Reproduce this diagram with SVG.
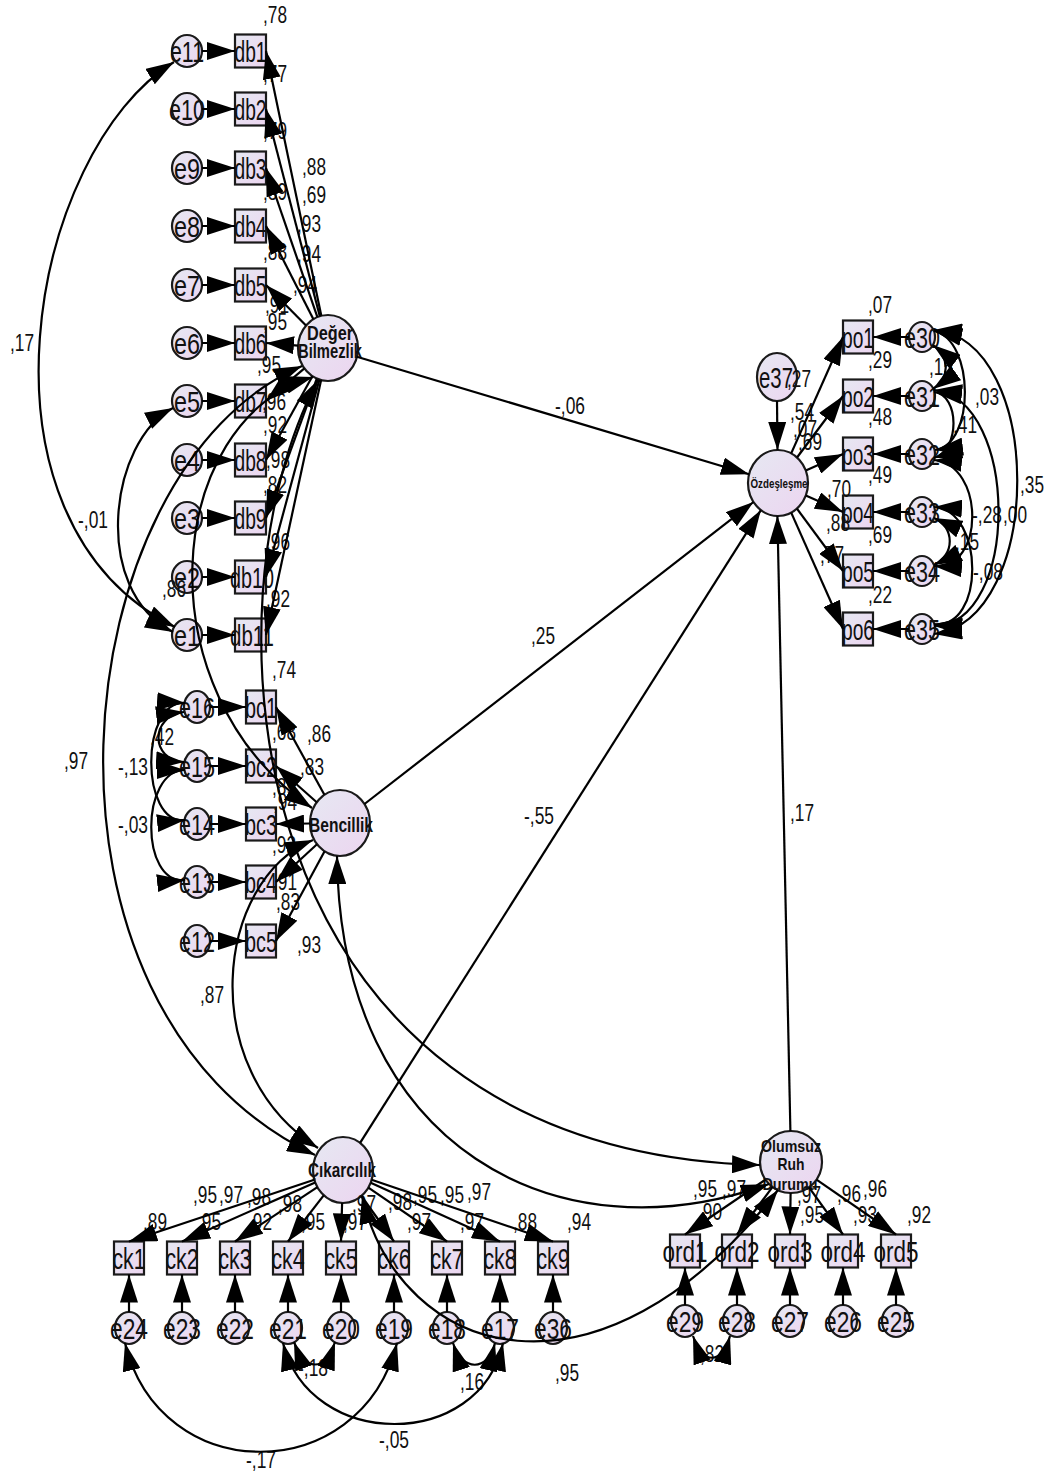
<svg xmlns="http://www.w3.org/2000/svg" width="1052" height="1474" viewBox="0 0 1052 1474">
<defs>
<linearGradient id="g" x1="0" y1="0" x2="1" y2="1"><stop offset="0" stop-color="#e6e8f2"/><stop offset="1" stop-color="#ecd5f0"/></linearGradient>
<marker id="ah" viewBox="0 0 28 18" refX="28" refY="9" markerWidth="28" markerHeight="18" markerUnits="userSpaceOnUse" orient="auto-start-reverse"><path d="M0,0 L28,9 L0,18 z" fill="#000"/></marker>
</defs>
<style>
.n{fill:url(#g);stroke:#1a1a1a;stroke-width:2.2}
.t{font-family:"Liberation Sans",Arial,sans-serif;font-size:30px;text-anchor:middle;fill:#111}
.lt{font-family:"Liberation Sans",Arial,sans-serif;font-weight:bold;font-size:20px;text-anchor:middle;fill:#111}
.v{font-family:"Liberation Sans",Arial,sans-serif;font-size:23px;fill:#111}
.c path{stroke:#000;stroke-width:2.2;fill:none;marker-end:url(#ah)}
.c path.d{marker-start:url(#ah)}
</style>
<rect width="1052" height="1474" fill="#fff"/>
<g id="nodes">
<g id="DB"><ellipse class="n" cx="328" cy="348" rx="30" ry="33"/><text class="lt" x="330" y="340" textLength="46" lengthAdjust="spacingAndGlyphs">Değer</text><text class="lt" x="330" y="358" textLength="64" lengthAdjust="spacingAndGlyphs">Bilmezlik</text></g>
<g id="OZ"><ellipse class="n" cx="778" cy="483" rx="30" ry="33"/><text class="lt" x="779" y="488" style="font-size:13px" textLength="57" lengthAdjust="spacingAndGlyphs">Özdeşleşme</text></g>
<g id="e37"><ellipse class="n" cx="777" cy="377" rx="20" ry="24"/><text class="t" x="776" y="388" textLength="34" lengthAdjust="spacingAndGlyphs">e37</text></g>
<g id="BC"><ellipse class="n" cx="340" cy="823" rx="30" ry="33"/><text class="lt" x="341" y="832" textLength="64" lengthAdjust="spacingAndGlyphs">Bencillik</text></g>
<g id="CK"><ellipse class="n" cx="343" cy="1170" rx="30" ry="33"/><text class="lt" x="342" y="1177" textLength="68" lengthAdjust="spacingAndGlyphs">Çıkarcılık</text></g>
<g id="OR"><ellipse class="n" cx="791" cy="1162" rx="31" ry="31"/><text class="lt" x="791" y="1152" style="font-size:17px" textLength="60" lengthAdjust="spacingAndGlyphs">Olumsuz</text><text class="lt" x="791" y="1170" style="font-size:17px" textLength="27" lengthAdjust="spacingAndGlyphs">Ruh</text><text class="lt" x="790" y="1190" style="font-size:17px" textLength="55" lengthAdjust="spacingAndGlyphs">Durumu</text></g>

<g id="db1"><rect class="n" x="235" y="34.5" width="31" height="33"/><text class="t" x="250.5" y="62" textLength="32" lengthAdjust="spacingAndGlyphs">db1</text></g>
<g id="db2"><rect class="n" x="235" y="92.5" width="31" height="33"/><text class="t" x="250.5" y="120" textLength="32" lengthAdjust="spacingAndGlyphs">db2</text></g>
<g id="db3"><rect class="n" x="235" y="151.5" width="31" height="33"/><text class="t" x="250.5" y="179" textLength="32" lengthAdjust="spacingAndGlyphs">db3</text></g>
<g id="db4"><rect class="n" x="235" y="209.5" width="31" height="33"/><text class="t" x="250.5" y="237" textLength="32" lengthAdjust="spacingAndGlyphs">db4</text></g>
<g id="db5"><rect class="n" x="235" y="268.5" width="31" height="33"/><text class="t" x="250.5" y="296" textLength="32" lengthAdjust="spacingAndGlyphs">db5</text></g>
<g id="db6"><rect class="n" x="235" y="326.5" width="31" height="33"/><text class="t" x="250.5" y="354" textLength="32" lengthAdjust="spacingAndGlyphs">db6</text></g>
<g id="db7"><rect class="n" x="235" y="384.5" width="31" height="33"/><text class="t" x="250.5" y="412" textLength="32" lengthAdjust="spacingAndGlyphs">db7</text></g>
<g id="db8"><rect class="n" x="235" y="443.5" width="31" height="33"/><text class="t" x="250.5" y="471" textLength="32" lengthAdjust="spacingAndGlyphs">db8</text></g>
<g id="db9"><rect class="n" x="235" y="501.5" width="31" height="33"/><text class="t" x="250.5" y="529" textLength="32" lengthAdjust="spacingAndGlyphs">db9</text></g>
<g id="db10"><rect class="n" x="235" y="560.5" width="31" height="33"/><text class="t" x="252" y="588" textLength="44" lengthAdjust="spacingAndGlyphs">db10</text></g>
<g id="db11"><rect class="n" x="235" y="618.5" width="31" height="33"/><text class="t" x="252" y="646" textLength="44" lengthAdjust="spacingAndGlyphs">db11</text></g>

<g id="e11"><ellipse class="n" cx="187" cy="51" rx="15" ry="16"/><text class="t" x="187" y="62" textLength="34" lengthAdjust="spacingAndGlyphs">e11</text></g>
<g id="e10"><ellipse class="n" cx="187" cy="109" rx="15" ry="16"/><text class="t" x="187" y="120" textLength="36" lengthAdjust="spacingAndGlyphs">e10</text></g>
<g id="e9"><ellipse class="n" cx="187" cy="168" rx="15" ry="16"/><text class="t" x="187" y="179" textLength="26" lengthAdjust="spacingAndGlyphs">e9</text></g>
<g id="e8"><ellipse class="n" cx="187" cy="226" rx="15" ry="16"/><text class="t" x="187" y="237" textLength="26" lengthAdjust="spacingAndGlyphs">e8</text></g>
<g id="e7"><ellipse class="n" cx="187" cy="285" rx="15" ry="16"/><text class="t" x="187" y="296" textLength="26" lengthAdjust="spacingAndGlyphs">e7</text></g>
<g id="e6"><ellipse class="n" cx="187" cy="343" rx="15" ry="16"/><text class="t" x="187" y="354" textLength="26" lengthAdjust="spacingAndGlyphs">e6</text></g>
<g id="e5"><ellipse class="n" cx="187" cy="401" rx="15" ry="16"/><text class="t" x="187" y="412" textLength="26" lengthAdjust="spacingAndGlyphs">e5</text></g>
<g id="e4"><ellipse class="n" cx="187" cy="460" rx="15" ry="16"/><text class="t" x="187" y="471" textLength="26" lengthAdjust="spacingAndGlyphs">e4</text></g>
<g id="e3"><ellipse class="n" cx="187" cy="518" rx="15" ry="16"/><text class="t" x="187" y="529" textLength="26" lengthAdjust="spacingAndGlyphs">e3</text></g>
<g id="e2"><ellipse class="n" cx="187" cy="577" rx="15" ry="16"/><text class="t" x="187" y="588" textLength="26" lengthAdjust="spacingAndGlyphs">e2</text></g>
<g id="e1"><ellipse class="n" cx="187" cy="635" rx="15" ry="16"/><text class="t" x="187" y="646" textLength="26" lengthAdjust="spacingAndGlyphs">e1</text></g>

<g id="bc1"><rect class="n" x="246" y="690.5" width="30" height="33"/><text class="t" x="261" y="718" textLength="32" lengthAdjust="spacingAndGlyphs">bc1</text></g>
<g id="bc2"><rect class="n" x="246" y="749.5" width="30" height="33"/><text class="t" x="261" y="777" textLength="32" lengthAdjust="spacingAndGlyphs">bc2</text></g>
<g id="bc3"><rect class="n" x="246" y="807.5" width="30" height="33"/><text class="t" x="261" y="835" textLength="32" lengthAdjust="spacingAndGlyphs">bc3</text></g>
<g id="bc4"><rect class="n" x="246" y="865.5" width="30" height="33"/><text class="t" x="261" y="893" textLength="32" lengthAdjust="spacingAndGlyphs">bc4</text></g>
<g id="bc5"><rect class="n" x="246" y="924.5" width="30" height="33"/><text class="t" x="261" y="952" textLength="32" lengthAdjust="spacingAndGlyphs">bc5</text></g>
<g id="e16"><ellipse class="n" cx="197" cy="707" rx="13" ry="16"/><text class="t" x="197" y="718" textLength="36" lengthAdjust="spacingAndGlyphs">e16</text></g>
<g id="e15"><ellipse class="n" cx="197" cy="766" rx="13" ry="16"/><text class="t" x="197" y="777" textLength="36" lengthAdjust="spacingAndGlyphs">e15</text></g>
<g id="e14"><ellipse class="n" cx="197" cy="824" rx="13" ry="16"/><text class="t" x="197" y="835" textLength="36" lengthAdjust="spacingAndGlyphs">e14</text></g>
<g id="e13"><ellipse class="n" cx="197" cy="882" rx="13" ry="16"/><text class="t" x="197" y="893" textLength="36" lengthAdjust="spacingAndGlyphs">e13</text></g>
<g id="e12"><ellipse class="n" cx="197" cy="941" rx="13" ry="16"/><text class="t" x="197" y="952" textLength="36" lengthAdjust="spacingAndGlyphs">e12</text></g>

<g id="po1"><rect class="n" x="843" y="320.5" width="30" height="33"/><text class="t" x="858" y="348" textLength="32" lengthAdjust="spacingAndGlyphs">po1</text></g>
<g id="po2"><rect class="n" x="843" y="379.5" width="30" height="33"/><text class="t" x="858" y="407" textLength="32" lengthAdjust="spacingAndGlyphs">po2</text></g>
<g id="po3"><rect class="n" x="843" y="437.5" width="30" height="33"/><text class="t" x="858" y="465" textLength="32" lengthAdjust="spacingAndGlyphs">po3</text></g>
<g id="po4"><rect class="n" x="843" y="495.5" width="30" height="33"/><text class="t" x="858" y="523" textLength="32" lengthAdjust="spacingAndGlyphs">po4</text></g>
<g id="po5"><rect class="n" x="843" y="554.5" width="30" height="33"/><text class="t" x="858" y="582" textLength="32" lengthAdjust="spacingAndGlyphs">po5</text></g>
<g id="po6"><rect class="n" x="843" y="612.5" width="30" height="33"/><text class="t" x="858" y="640" textLength="32" lengthAdjust="spacingAndGlyphs">po6</text></g>
<g id="e30"><ellipse class="n" cx="922" cy="337" rx="13" ry="15"/><text class="t" x="922" y="348" textLength="36" lengthAdjust="spacingAndGlyphs">e30</text></g>
<g id="e31"><ellipse class="n" cx="922" cy="396" rx="13" ry="15"/><text class="t" x="922" y="407" textLength="36" lengthAdjust="spacingAndGlyphs">e31</text></g>
<g id="e32"><ellipse class="n" cx="922" cy="454" rx="13" ry="15"/><text class="t" x="922" y="465" textLength="36" lengthAdjust="spacingAndGlyphs">e32</text></g>
<g id="e33"><ellipse class="n" cx="922" cy="512" rx="13" ry="15"/><text class="t" x="922" y="523" textLength="36" lengthAdjust="spacingAndGlyphs">e33</text></g>
<g id="e34"><ellipse class="n" cx="922" cy="571" rx="13" ry="15"/><text class="t" x="922" y="582" textLength="36" lengthAdjust="spacingAndGlyphs">e34</text></g>
<g id="e35"><ellipse class="n" cx="922" cy="629" rx="13" ry="15"/><text class="t" x="922" y="640" textLength="36" lengthAdjust="spacingAndGlyphs">e35</text></g>

<g id="ck1"><rect class="n" x="114" y="1241.5" width="30" height="33"/><text class="t" x="129" y="1269" textLength="33" lengthAdjust="spacingAndGlyphs">ck1</text></g>
<g id="ck2"><rect class="n" x="167" y="1241.5" width="30" height="33"/><text class="t" x="182" y="1269" textLength="33" lengthAdjust="spacingAndGlyphs">ck2</text></g>
<g id="ck3"><rect class="n" x="220" y="1241.5" width="30" height="33"/><text class="t" x="235" y="1269" textLength="33" lengthAdjust="spacingAndGlyphs">ck3</text></g>
<g id="ck4"><rect class="n" x="273" y="1241.5" width="30" height="33"/><text class="t" x="288" y="1269" textLength="33" lengthAdjust="spacingAndGlyphs">ck4</text></g>
<g id="ck5"><rect class="n" x="326" y="1241.5" width="30" height="33"/><text class="t" x="341" y="1269" textLength="33" lengthAdjust="spacingAndGlyphs">ck5</text></g>
<g id="ck6"><rect class="n" x="379" y="1241.5" width="30" height="33"/><text class="t" x="394" y="1269" textLength="33" lengthAdjust="spacingAndGlyphs">ck6</text></g>
<g id="ck7"><rect class="n" x="432" y="1241.5" width="30" height="33"/><text class="t" x="447" y="1269" textLength="33" lengthAdjust="spacingAndGlyphs">ck7</text></g>
<g id="ck8"><rect class="n" x="485" y="1241.5" width="30" height="33"/><text class="t" x="500" y="1269" textLength="33" lengthAdjust="spacingAndGlyphs">ck8</text></g>
<g id="ck9"><rect class="n" x="538" y="1241.5" width="30" height="33"/><text class="t" x="553" y="1269" textLength="33" lengthAdjust="spacingAndGlyphs">ck9</text></g>
<g id="e24"><ellipse class="n" cx="129" cy="1328" rx="14" ry="16"/><text class="t" x="129" y="1339" textLength="38" lengthAdjust="spacingAndGlyphs">e24</text></g>
<g id="e23"><ellipse class="n" cx="182" cy="1328" rx="14" ry="16"/><text class="t" x="182" y="1339" textLength="38" lengthAdjust="spacingAndGlyphs">e23</text></g>
<g id="e22"><ellipse class="n" cx="235" cy="1328" rx="14" ry="16"/><text class="t" x="235" y="1339" textLength="38" lengthAdjust="spacingAndGlyphs">e22</text></g>
<g id="e21"><ellipse class="n" cx="288" cy="1328" rx="14" ry="16"/><text class="t" x="288" y="1339" textLength="38" lengthAdjust="spacingAndGlyphs">e21</text></g>
<g id="e20"><ellipse class="n" cx="341" cy="1328" rx="14" ry="16"/><text class="t" x="341" y="1339" textLength="38" lengthAdjust="spacingAndGlyphs">e20</text></g>
<g id="e19"><ellipse class="n" cx="394" cy="1328" rx="14" ry="16"/><text class="t" x="394" y="1339" textLength="38" lengthAdjust="spacingAndGlyphs">e19</text></g>
<g id="e18"><ellipse class="n" cx="447" cy="1328" rx="14" ry="16"/><text class="t" x="447" y="1339" textLength="38" lengthAdjust="spacingAndGlyphs">e18</text></g>
<g id="e17"><ellipse class="n" cx="500" cy="1328" rx="14" ry="16"/><text class="t" x="500" y="1339" textLength="38" lengthAdjust="spacingAndGlyphs">e17</text></g>
<g id="e36"><ellipse class="n" cx="553" cy="1328" rx="14" ry="16"/><text class="t" x="553" y="1339" textLength="38" lengthAdjust="spacingAndGlyphs">e36</text></g>

<g id="ord1"><rect class="n" x="670" y="1234.5" width="30" height="33"/><text class="t" x="685" y="1262" textLength="45" lengthAdjust="spacingAndGlyphs">ord1</text></g>
<g id="ord2"><rect class="n" x="722" y="1234.5" width="30" height="33"/><text class="t" x="737" y="1262" textLength="45" lengthAdjust="spacingAndGlyphs">ord2</text></g>
<g id="ord3"><rect class="n" x="775" y="1234.5" width="30" height="33"/><text class="t" x="790" y="1262" textLength="45" lengthAdjust="spacingAndGlyphs">ord3</text></g>
<g id="ord4"><rect class="n" x="828" y="1234.5" width="30" height="33"/><text class="t" x="843" y="1262" textLength="45" lengthAdjust="spacingAndGlyphs">ord4</text></g>
<g id="ord5"><rect class="n" x="881" y="1234.5" width="30" height="33"/><text class="t" x="896" y="1262" textLength="45" lengthAdjust="spacingAndGlyphs">ord5</text></g>
<g id="e29"><ellipse class="n" cx="685" cy="1321" rx="14" ry="16"/><text class="t" x="685" y="1332" textLength="38" lengthAdjust="spacingAndGlyphs">e29</text></g>
<g id="e28"><ellipse class="n" cx="737" cy="1321" rx="14" ry="16"/><text class="t" x="737" y="1332" textLength="38" lengthAdjust="spacingAndGlyphs">e28</text></g>
<g id="e27"><ellipse class="n" cx="790" cy="1321" rx="14" ry="16"/><text class="t" x="790" y="1332" textLength="38" lengthAdjust="spacingAndGlyphs">e27</text></g>
<g id="e26"><ellipse class="n" cx="843" cy="1321" rx="14" ry="16"/><text class="t" x="843" y="1332" textLength="38" lengthAdjust="spacingAndGlyphs">e26</text></g>
<g id="e25"><ellipse class="n" cx="896" cy="1321" rx="14" ry="16"/><text class="t" x="896" y="1332" textLength="38" lengthAdjust="spacingAndGlyphs">e25</text></g>
</g>

<g id="labels" class="v">
<text x="263" y="23" textLength="24" lengthAdjust="spacingAndGlyphs">,78</text>
<text x="263" y="82" textLength="24" lengthAdjust="spacingAndGlyphs">,77</text>
<text x="263" y="139" textLength="24" lengthAdjust="spacingAndGlyphs">,79</text>
<text x="263" y="200" textLength="24" lengthAdjust="spacingAndGlyphs">,89</text>
<text x="302" y="175" textLength="24" lengthAdjust="spacingAndGlyphs">,88</text>
<text x="302" y="203" textLength="24" lengthAdjust="spacingAndGlyphs">,69</text>
<text x="297" y="232" textLength="24" lengthAdjust="spacingAndGlyphs">,93</text>
<text x="297" y="262" textLength="24" lengthAdjust="spacingAndGlyphs">,94</text>
<text x="263" y="260" textLength="24" lengthAdjust="spacingAndGlyphs">,88</text>
<text x="293" y="293" textLength="24" lengthAdjust="spacingAndGlyphs">,94</text>
<text x="265" y="313" textLength="24" lengthAdjust="spacingAndGlyphs">,91</text>
<text x="263" y="330" textLength="24" lengthAdjust="spacingAndGlyphs">,95</text>
<text x="257" y="373" textLength="24" lengthAdjust="spacingAndGlyphs">,95</text>
<text x="262" y="410" textLength="24" lengthAdjust="spacingAndGlyphs">,96</text>
<text x="263" y="433" textLength="24" lengthAdjust="spacingAndGlyphs">,92</text>
<text x="266" y="468" textLength="24" lengthAdjust="spacingAndGlyphs">,98</text>
<text x="263" y="493" textLength="24" lengthAdjust="spacingAndGlyphs">,82</text>
<text x="266" y="550" textLength="24" lengthAdjust="spacingAndGlyphs">,96</text>
<text x="266" y="607" textLength="24" lengthAdjust="spacingAndGlyphs">,92</text>
<text x="10" y="351" textLength="24" lengthAdjust="spacingAndGlyphs">,17</text>
<text x="78" y="528" textLength="30" lengthAdjust="spacingAndGlyphs">-,01</text>
<text x="162" y="597" textLength="24" lengthAdjust="spacingAndGlyphs">,86</text>
<text x="64" y="769" textLength="24" lengthAdjust="spacingAndGlyphs">,97</text>
<text x="118" y="775" textLength="30" lengthAdjust="spacingAndGlyphs">-,13</text>
<text x="118" y="833" textLength="30" lengthAdjust="spacingAndGlyphs">-,03</text>
<text x="150" y="745" textLength="24" lengthAdjust="spacingAndGlyphs">,42</text>
<text x="272" y="678" textLength="24" lengthAdjust="spacingAndGlyphs">,74</text>
<text x="272" y="740" textLength="24" lengthAdjust="spacingAndGlyphs">,68</text>
<text x="307" y="742" textLength="24" lengthAdjust="spacingAndGlyphs">,86</text>
<text x="300" y="775" textLength="24" lengthAdjust="spacingAndGlyphs">,83</text>
<text x="272" y="795" textLength="24" lengthAdjust="spacingAndGlyphs">,89</text>
<text x="273" y="810" textLength="24" lengthAdjust="spacingAndGlyphs">,94</text>
<text x="272" y="853" textLength="24" lengthAdjust="spacingAndGlyphs">,92</text>
<text x="273" y="890" textLength="24" lengthAdjust="spacingAndGlyphs">,91</text>
<text x="276" y="910" textLength="24" lengthAdjust="spacingAndGlyphs">,83</text>
<text x="297" y="953" textLength="24" lengthAdjust="spacingAndGlyphs">,93</text>
<text x="200" y="1003" textLength="24" lengthAdjust="spacingAndGlyphs">,87</text>
<text x="555" y="414" textLength="30" lengthAdjust="spacingAndGlyphs">-,06</text>
<text x="531" y="644" textLength="24" lengthAdjust="spacingAndGlyphs">,25</text>
<text x="524" y="824" textLength="30" lengthAdjust="spacingAndGlyphs">-,55</text>
<text x="790" y="821" textLength="24" lengthAdjust="spacingAndGlyphs">,17</text>
<text x="787" y="387" textLength="24" lengthAdjust="spacingAndGlyphs">,27</text>
<text x="790" y="420" textLength="24" lengthAdjust="spacingAndGlyphs">,54</text>
<text x="793" y="437" textLength="24" lengthAdjust="spacingAndGlyphs">,07</text>
<text x="798" y="450" textLength="24" lengthAdjust="spacingAndGlyphs">,69</text>
<text x="827" y="497" textLength="24" lengthAdjust="spacingAndGlyphs">,70</text>
<text x="826" y="531" textLength="24" lengthAdjust="spacingAndGlyphs">,88</text>
<text x="820" y="563" textLength="24" lengthAdjust="spacingAndGlyphs">,77</text>
<text x="868" y="313" textLength="24" lengthAdjust="spacingAndGlyphs">,07</text>
<text x="868" y="368" textLength="24" lengthAdjust="spacingAndGlyphs">,29</text>
<text x="868" y="425" textLength="24" lengthAdjust="spacingAndGlyphs">,48</text>
<text x="868" y="483" textLength="24" lengthAdjust="spacingAndGlyphs">,49</text>
<text x="868" y="543" textLength="24" lengthAdjust="spacingAndGlyphs">,69</text>
<text x="868" y="603" textLength="24" lengthAdjust="spacingAndGlyphs">,22</text>
<text x="929" y="375" textLength="24" lengthAdjust="spacingAndGlyphs">,15</text>
<text x="975" y="405" textLength="24" lengthAdjust="spacingAndGlyphs">,03</text>
<text x="953" y="433" textLength="24" lengthAdjust="spacingAndGlyphs">,41</text>
<text x="1020" y="493" textLength="24" lengthAdjust="spacingAndGlyphs">,35</text>
<text x="972" y="523" textLength="30" lengthAdjust="spacingAndGlyphs">-,28</text>
<text x="1003" y="523" textLength="24" lengthAdjust="spacingAndGlyphs">,00</text>
<text x="955" y="550" textLength="24" lengthAdjust="spacingAndGlyphs">,15</text>
<text x="973" y="580" textLength="30" lengthAdjust="spacingAndGlyphs">-,08</text>
<text x="193" y="1203" textLength="24" lengthAdjust="spacingAndGlyphs">,95</text>
<text x="219" y="1203" textLength="24" lengthAdjust="spacingAndGlyphs">,97</text>
<text x="247" y="1205" textLength="24" lengthAdjust="spacingAndGlyphs">,98</text>
<text x="278" y="1212" textLength="24" lengthAdjust="spacingAndGlyphs">,98</text>
<text x="143" y="1230" textLength="24" lengthAdjust="spacingAndGlyphs">,89</text>
<text x="197" y="1230" textLength="24" lengthAdjust="spacingAndGlyphs">,95</text>
<text x="248" y="1230" textLength="24" lengthAdjust="spacingAndGlyphs">,92</text>
<text x="301" y="1230" textLength="24" lengthAdjust="spacingAndGlyphs">,95</text>
<text x="352" y="1212" textLength="24" lengthAdjust="spacingAndGlyphs">,97</text>
<text x="343" y="1230" textLength="24" lengthAdjust="spacingAndGlyphs">,97</text>
<text x="388" y="1210" textLength="24" lengthAdjust="spacingAndGlyphs">,98</text>
<text x="413" y="1203" textLength="24" lengthAdjust="spacingAndGlyphs">,95</text>
<text x="440" y="1203" textLength="24" lengthAdjust="spacingAndGlyphs">,95</text>
<text x="467" y="1200" textLength="24" lengthAdjust="spacingAndGlyphs">,97</text>
<text x="407" y="1230" textLength="24" lengthAdjust="spacingAndGlyphs">,97</text>
<text x="460" y="1230" textLength="24" lengthAdjust="spacingAndGlyphs">,97</text>
<text x="513" y="1230" textLength="24" lengthAdjust="spacingAndGlyphs">,88</text>
<text x="567" y="1230" textLength="24" lengthAdjust="spacingAndGlyphs">,94</text>
<text x="693" y="1197" textLength="24" lengthAdjust="spacingAndGlyphs">,95</text>
<text x="698" y="1220" textLength="24" lengthAdjust="spacingAndGlyphs">,90</text>
<text x="722" y="1197" textLength="24" lengthAdjust="spacingAndGlyphs">,97</text>
<text x="797" y="1203" textLength="24" lengthAdjust="spacingAndGlyphs">,97</text>
<text x="800" y="1223" textLength="24" lengthAdjust="spacingAndGlyphs">,95</text>
<text x="837" y="1202" textLength="24" lengthAdjust="spacingAndGlyphs">,96</text>
<text x="863" y="1197" textLength="24" lengthAdjust="spacingAndGlyphs">,96</text>
<text x="853" y="1223" textLength="24" lengthAdjust="spacingAndGlyphs">,93</text>
<text x="907" y="1223" textLength="24" lengthAdjust="spacingAndGlyphs">,92</text>
<text x="555" y="1381" textLength="24" lengthAdjust="spacingAndGlyphs">,95</text>
<text x="700" y="1362" textLength="24" lengthAdjust="spacingAndGlyphs">,82</text>
<text x="246" y="1468" textLength="30" lengthAdjust="spacingAndGlyphs">-,17</text>
<text x="379" y="1448" textLength="30" lengthAdjust="spacingAndGlyphs">-,05</text>
<text x="298" y="1376" textLength="30" lengthAdjust="spacingAndGlyphs">-,18</text>
<text x="460" y="1390" textLength="24" lengthAdjust="spacingAndGlyphs">,16</text>
</g>

<g id="connectors" class="c">
<path d="M202,51H235"/><path d="M202,109H235"/><path d="M202,168H235"/><path d="M202,226H235"/><path d="M202,285H235"/><path d="M202,343H235"/><path d="M202,401H235"/><path d="M202,460H235"/><path d="M202,518H235"/><path d="M202,577H235"/><path d="M202,635H235"/>
<path d="M321.3,315.8L266,51"/><path d="M319.8,316.3L266,109"/><path d="M317.4,317.1L266,168"/><path d="M313.4,319.2L266,226"/><path d="M306,325.5L266,285"/><path d="M298.1,345.6L266,343"/><path d="M304.4,368.3L266,401"/><path d="M312.4,376.2L266,460"/><path d="M316.8,378.6L266,518"/><path d="M319.4,379.6L266,577"/><path d="M321.1,380.1L266,635"/>
<path d="M210,707H246"/><path d="M210,766H246"/><path d="M210,824H246"/><path d="M210,882H246"/><path d="M210,941H246"/>
<path d="M324.4,794.8L276,707"/><path d="M316.7,802.2L276,766"/><path d="M310,823.5L276,824"/><path d="M317,844.2L276,882"/><path d="M324.6,851.3L276,941"/>
<path d="M909,337H873"/><path d="M909,396H873"/><path d="M909,454H873"/><path d="M909,512H873"/><path d="M909,571H873"/><path d="M909,629H873"/>
<path d="M791.2,453.4L843,337"/><path d="M797,457.5L843,396"/><path d="M805.8,470.6L843,454"/><path d="M805.8,495.4L843,512"/><path d="M796.9,508.6L843,571"/><path d="M791.2,512.6L843,629"/>
<path d="M777,401L777.5,450"/>
<path d="M314.3,1179.7L129,1241.5"/><path d="M315.2,1182.4L182,1241.5"/><path d="M317.4,1187.1L235,1241.5"/><path d="M323.7,1195.3L288,1241.5"/><path d="M342.1,1203L341,1241.5"/><path d="M361.4,1196L394,1241.5"/><path d="M368.4,1187.6L447,1241.5"/><path d="M370.7,1182.7L500,1241.5"/><path d="M371.6,1179.8L553,1241.5"/>
<path d="M129,1312V1274.5"/><path d="M182,1312V1274.5"/><path d="M235,1312V1274.5"/><path d="M288,1312V1274.5"/><path d="M341,1312V1274.5"/><path d="M394,1312V1274.5"/><path d="M447,1312V1274.5"/><path d="M500,1312V1274.5"/><path d="M553,1312V1274.5"/>
<path d="M765.5,1179.6L685,1234.5"/><path d="M772.6,1186.9L737,1234.5"/><path d="M790.6,1193L790,1234.5"/><path d="M809,1187.3L843,1234.5"/><path d="M816.5,1179.7L896,1234.5"/>
<path d="M685,1305V1267.5"/><path d="M737,1305V1267.5"/><path d="M790,1305V1267.5"/><path d="M843,1305V1267.5"/><path d="M896,1305V1267.5"/>
<path d="M356.9,356.7L749.1,474.3"/>
<path d="M364.5,804L753.5,502"/>
<path d="M360.1,1142.9L760.9,510.1"/>
<path d="M790.4,1131L777.4,516"/>
<path class="d" d="M174,62C30,150 -40,520 175,627"/>
<path class="d" d="M173,408C110,440 90,590 173,632"/>
<path class="d" d="M302,366C60,470 10,1010 315,1155"/>
<path class="d" d="M313,840C215,880 195,1070 318,1148"/>
<path class="d" d="M313,377C165,420 140,690 312,808"/>
<path class="d" d="M318,380C200,600 230,1150 760,1165"/>
<path class="d" d="M337,856C340,1150 560,1260 769,1184"/>
<path class="d" d="M362,1196C400,1360 600,1420 778,1190"/>
<path class="d" d="M184,712C150,716 150,760 184,762"/>
<path class="d" d="M185,703C140,700 140,825 185,820"/>
<path class="d" d="M185,770C140,770 140,885 185,880"/>
<path class="d" d="M125,1343C160,1488 360,1488 397,1343"/>
<path class="d" d="M283,1343C310,1451 480,1451 503,1343"/>
<path class="d" d="M294,1342C305,1372 325,1372 335,1342"/>
<path class="d" d="M453,1343C462,1372 488,1372 495,1343"/>
<path class="d" d="M693,1336C703,1365 722,1365 730,1336"/>
<path class="d" d="M933,345C950,358 950,377 933,389"/>
<path class="d" d="M934,331C975,340 975,445 935,450"/>
<path class="d" d="M934,392C960,395 960,450 934,458"/>
<path class="d" d="M934,330C1045,340 1045,620 934,634"/>
<path class="d" d="M934,390C1020,400 1020,625 934,626"/>
<path class="d" d="M934,460C985,465 985,570 934,566"/>
<path class="d" d="M934,518C955,527 955,555 934,565"/>
<path class="d" d="M934,507C985,510 985,630 934,624"/>
</g>
</svg>
